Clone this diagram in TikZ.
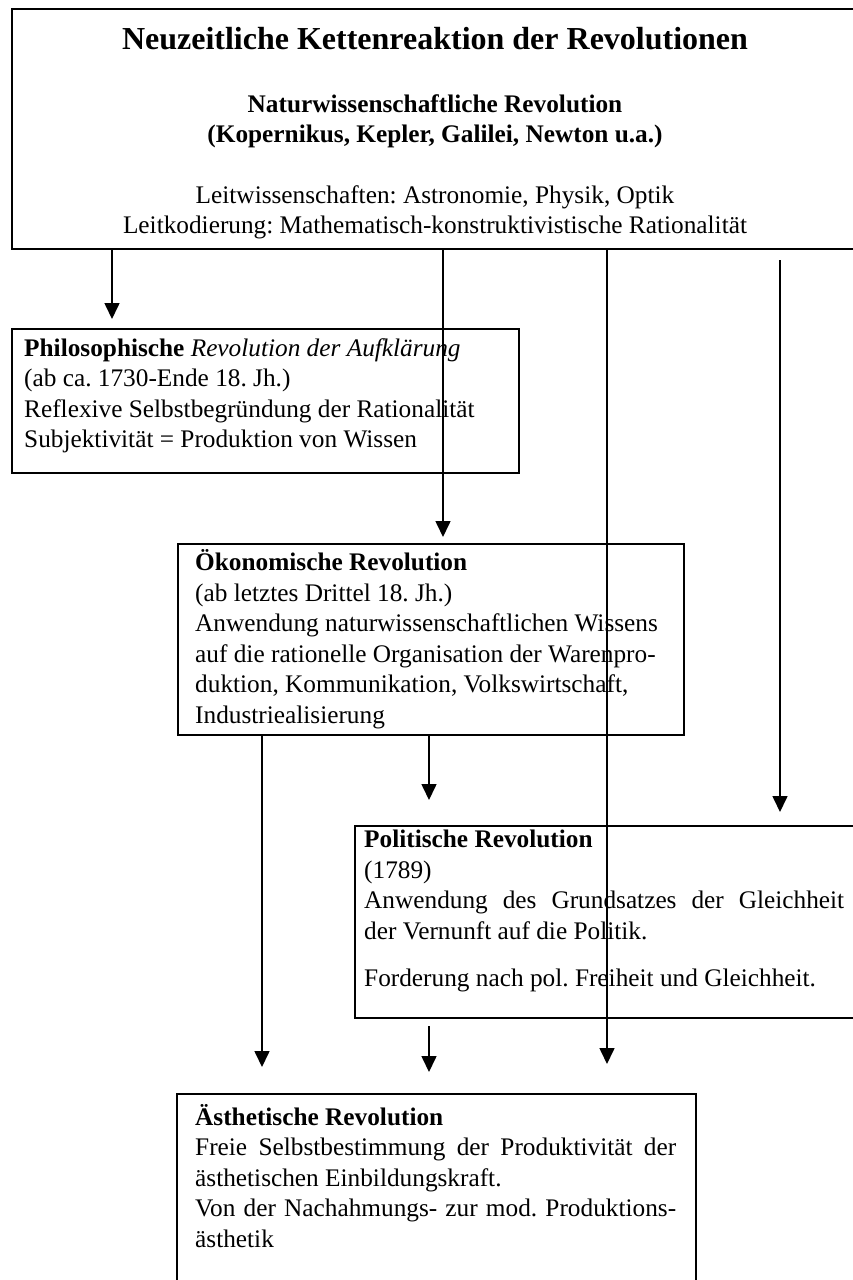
\documentclass[tikz,border=0pt]{standalone}
\usepackage{fontspec}
\setmainfont{Liberation Serif}
\usetikzlibrary{arrows.meta}
\newcommand{\bodyfont}{\fontsize{25.3}{30.5}\selectfont}
\frenchspacing
\begin{document}
\frenchspacing
\begin{tikzpicture}[x=1pt,y=-1pt,
  box/.style={draw, line width=2pt, rectangle, inner sep=0pt, anchor=north west},
  txt/.style={inner sep=0pt, anchor=base west, font=\bodyfont},
  ctr/.style={inner sep=0pt, anchor=base, font=\bodyfont},
  arr/.style={line width=1.6pt, -{Triangle[width=15pt,length=16pt]}}]
\useasboundingbox (0,0) rectangle (852,1280);

% boxes
\node[box, minimum width=848pt, minimum height=240pt] (top) at (11,8) {};
\node[box, minimum width=507pt, minimum height=144pt] (phil) at (11,328) {};
\node[box, minimum width=506pt, minimum height=191pt] (oek) at (177,543) {};
\node[box, minimum width=520pt, minimum height=192pt] (pol) at (354,825) {};
\node[box, minimum width=519pt, minimum height=230pt] (aest) at (176,1093) {};

% texts of the top box
\node[ctr, font=\bfseries\fontsize{32}{38}\selectfont] (title) at (435,49)
  {\parbox[t]{800pt}{\frenchspacing\centering Neuzeitliche Kettenreaktion der Revolutionen}};
\node[ctr] (sub) at (435,112)
  {\parbox[t]{800pt}{\frenchspacing\centering\bfseries Naturwissenschaftliche Revolution\\(Kopernikus, Kepler, Galilei, Newton u.a.)}};
\node[ctr] (leit) at (435,203)
  {\parbox[t]{800pt}{\frenchspacing\centering Leitwissenschaften: Astronomie, Physik, Optik\\Leitkodierung: Mathematisch-konstruktivistische Rationalität}};

% texts of the other boxes
\node[txt] (philtxt) at (24,356)
  {\parbox[t]{490pt}{\frenchspacing\raggedright\textbf{Philosophische} \textit{Revolution der Aufklärung}\\
  (ab ca. 1730-Ende 18. Jh.)\\
  Reflexive Selbstbegründung der Rationalität\\
  Subjektivität = Produktion von Wissen}};

\node[txt] (oektxt) at (195,570.5)
  {\parbox[t]{490pt}{\frenchspacing\raggedright\textbf{Ökonomische Revolution}\\
  (ab letztes Drittel 18. Jh.)\\
  Anwendung naturwissenschaftlichen Wissens\\
  auf die rationelle Organisation der Warenpro-\\
  duktion, Kommunikation, Volkswirtschaft,\\
  Industriealisierung}};

\node[txt] (poltxt) at (364,847.5)
  {\parbox[t]{490pt}{\frenchspacing\raggedright\textbf{Politische Revolution}\\
  (1789)\\
  \makebox[480pt][s]{Anwendung des Grundsatzes der Gleichheit}\\
  der Vernunft auf die Politik.\\[16.5pt]
  Forderung nach pol. Freiheit und Gleichheit.}};

\node[txt] (aesttxt) at (195,1125)
  {\parbox[t]{490pt}{\frenchspacing\raggedright\textbf{Ästhetische Revolution}\\
  \makebox[481pt][s]{Freie Selbstbestimmung der Produktivität der}\\
  ästhetischen Einbildungskraft.\\
  \makebox[481pt][s]{Von der Nachahmungs- zur mod. Produktions-}\\
  ästhetik}};

% connectors
\coordinate (c1) at (112,0);
\coordinate (c2) at (443,0);
\coordinate (c3) at (607,0);
\coordinate (c4) at (780,260);
\coordinate (c5) at (262,0);
\coordinate (c6) at (429,0);

\draw[arr, shorten >=9pt] (top.south -| c1) -- (phil.north -| c1);
\draw[arr, shorten >=6pt] (top.south -| c2) -- (oek.north -| c2);
\draw[arr, shorten >=29pt] (top.south -| c3) -- (aest.north -| c3);
\draw[arr, shorten >=13pt] (c4) -- (pol.north -| c4);
\draw[arr, shorten >=26pt] (oek.south -| c5) -- (aest.north -| c5);
\draw[arr, shorten >=25pt] (oek.south -| c6) -- (pol.north -| c6);
\draw[arr, shorten <=7pt, shorten >=21pt] (pol.south -| c6) -- (aest.north -| c6);
\end{tikzpicture}
\end{document}
